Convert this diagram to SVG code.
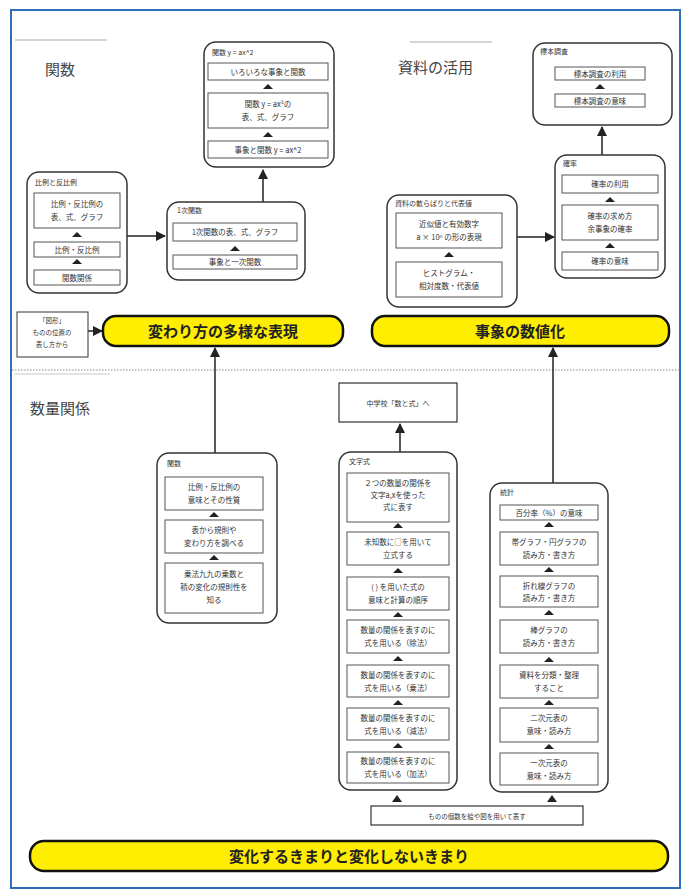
<svg xmlns="http://www.w3.org/2000/svg" width="686" height="895" viewBox="0 0 686 895">
<style>
text{font-family:"Noto Sans CJK JP","Noto Sans",sans-serif;fill:#333}
.outer{fill:#fff;stroke:#333;stroke-width:1.5}
.inner{fill:#fff;stroke:#555;stroke-width:1}
.t{font-size:7.5px;text-anchor:middle}
.h{font-size:7px}
.title{font-size:15px;fill:#444}
.yel{fill:#ffee00;stroke:#111;stroke-width:2.5}
.yt{font-size:15px;font-weight:bold;text-anchor:middle;fill:#222}
.tri{fill:#222}
.conn line{stroke:#222;stroke-width:1.5}
</style>
<defs>
<marker id="arr" viewBox="0 0 10 10" refX="9" refY="5" markerWidth="7" markerHeight="7" orient="auto">
<path d="M0,0 L10,5 L0,10 z" fill="#222"/>
</marker>
</defs>
<rect x="0" y="0" width="686" height="895" fill="#fff"/>
<rect x="11" y="10" width="669" height="878" fill="#fff" stroke="#2f6fba" stroke-width="2"/>
<line x1="15" y1="40" x2="107" y2="40" stroke="#aaa" stroke-width="1"/>
<line x1="410" y1="42" x2="492" y2="42" stroke="#aaa" stroke-width="1"/>
<line x1="12" y1="370" x2="680" y2="370" stroke="#888" stroke-width="1" stroke-dasharray="1.5 1.5"/>
<line x1="14" y1="374" x2="110" y2="374" stroke="#bbb" stroke-width="0.8"/>

<text class="title" x="45" y="75">関数</text>
<text class="title" x="398" y="73">資料の活用</text>
<text class="title" x="30" y="414">数量関係</text>

<g id="connectors" class="conn">
<line x1="263" y1="202" x2="263" y2="170" marker-end="url(#arr)"/>
<line x1="127" y1="236" x2="165" y2="236" marker-end="url(#arr)"/>
<line x1="602" y1="155" x2="602" y2="127" marker-end="url(#arr)"/>
<line x1="517" y1="237" x2="554" y2="237" marker-end="url(#arr)"/>
<line x1="88" y1="331" x2="102" y2="331" marker-end="url(#arr)"/>
<line x1="215" y1="453" x2="215" y2="348" marker-end="url(#arr)"/>
<line x1="553" y1="483" x2="553" y2="348" marker-end="url(#arr)"/>
<line x1="400" y1="452" x2="400" y2="424" marker-end="url(#arr)"/>
<polygon class="tri" points="392,802 397,795 402,802"/>
<polygon class="tri" points="547,802 552,795 557,802"/>
</g>

<g id="kansu-ax2">
<rect class="outer" x="204" y="42" width="130" height="125" rx="12"/>
<text class="h" x="212" y="55">関数 y = ax^2</text>
<rect class="inner" x="208" y="63" width="120" height="17"/>
<text class="t" x="268" y="74.5">いろいろな事象と関数</text>
<polygon class="tri" points="263,89 268,84 273,89"/>
<rect class="inner" x="208" y="93" width="120" height="35"/>
<text class="t" x="268" y="107">関数 y = ax²の</text>
<text class="t" x="268" y="120">表、式、グラフ</text>
<polygon class="tri" points="263,137 268,132 273,137"/>
<rect class="inner" x="208" y="141" width="120" height="17"/>
<text class="t" x="268" y="152.5">事象と関数 y = ax^2</text>
</g>

<g id="hirei">
<rect class="outer" x="27" y="172" width="100" height="121" rx="12"/>
<text class="h" x="35" y="185">比例と反比例</text>
<rect class="inner" x="34" y="193" width="86" height="35"/>
<text class="t" x="77" y="207">比例・反比例の</text>
<text class="t" x="77" y="220">表、式、グラフ</text>
<polygon class="tri" points="72,237 77,232 82,237"/>
<rect class="inner" x="34" y="242" width="86" height="15"/>
<text class="t" x="77" y="252.5">比例・反比例</text>
<polygon class="tri" points="72,264 77,259 82,264"/>
<rect class="inner" x="34" y="270" width="86" height="15"/>
<text class="t" x="77" y="280.5">関数関係</text>
</g>

<g id="ichiji">
<rect class="outer" x="167" y="202" width="138" height="78" rx="12"/>
<text class="h" x="177" y="213">1次関数</text>
<rect class="inner" x="173" y="223" width="124" height="18"/>
<text class="t" x="235" y="235">1次関数の表、式、グラフ</text>
<polygon class="tri" points="230,251 235,246 240,251"/>
<rect class="inner" x="173" y="255" width="124" height="14"/>
<text class="t" x="235" y="265">事象と一次関数</text>
</g>

<g id="hyohon">
<rect class="outer" x="533" y="43" width="139" height="82" rx="12"/>
<text class="h" x="540" y="54">標本調査</text>
<rect class="inner" x="555" y="67" width="90" height="13"/>
<text class="t" x="600" y="76.5">標本調査の利用</text>
<polygon class="tri" points="595,89 600,84 605,89"/>
<rect class="inner" x="555" y="94" width="90" height="13"/>
<text class="t" x="600" y="103.5">標本調査の意味</text>
</g>

<g id="kakuritsu">
<rect class="outer" x="555" y="155" width="110" height="123" rx="12"/>
<text class="h" x="563" y="166">確率</text>
<rect class="inner" x="562" y="175" width="96" height="18"/>
<text class="t" x="610" y="187">確率の利用</text>
<polygon class="tri" points="605,202 610,197 615,202"/>
<rect class="inner" x="562" y="205" width="96" height="35"/>
<text class="t" x="610" y="219">確率の求め方</text>
<text class="t" x="610" y="232">余事象の確率</text>
<polygon class="tri" points="605,248 610,243 615,248"/>
<rect class="inner" x="562" y="252" width="96" height="18"/>
<text class="t" x="610" y="264">確率の意味</text>
</g>

<g id="shiryo">
<rect class="outer" x="387" y="195" width="130" height="112" rx="12"/>
<text class="h" x="395" y="206">資料の散らばりと代表値</text>
<rect class="inner" x="396" y="213" width="106" height="35"/>
<text class="t" x="449" y="227">近似値と有効数字</text>
<text class="t" x="449" y="240">a × 10ⁿ の形の表現</text>
<polygon class="tri" points="444,257 449,252 454,257"/>
<rect class="inner" x="396" y="262" width="106" height="35"/>
<text class="t" x="449" y="276">ヒストグラム・</text>
<text class="t" x="449" y="289">相対度数・代表値</text>
</g>

<g id="zukei">
<rect x="17" y="312" width="71" height="45" fill="#fff" stroke="#333" stroke-width="1"/>
<text class="t" x="52" y="323" style="font-size:6.5px">「図形」</text>
<text class="t" x="52" y="335" style="font-size:6.5px">ものの位置の</text>
<text class="t" x="52" y="347" style="font-size:6.5px">表し方から</text>
</g>

<g id="kawarikata">
<rect class="yel" x="103" y="316" width="240" height="30" rx="13"/>
<text class="yt" x="223" y="336.5">変わり方の多様な表現</text>
</g>

<g id="suchika">
<rect class="yel" x="372" y="316" width="297" height="30" rx="13"/>
<text class="yt" x="520" y="336.5">事象の数値化</text>
</g>

<g id="chugaku">
<rect x="339" y="383" width="118" height="39" fill="#fff" stroke="#333" stroke-width="1.2"/>
<text class="t" x="398" y="406" style="font-size:7px">中学校「数と式」へ</text>
</g>

<g id="kansu-low">
<rect class="outer" x="157" y="453" width="120" height="170" rx="12"/>
<text class="h" x="167" y="466">関数</text>
<rect class="inner" x="165" y="477" width="98" height="33"/>
<text class="t" x="214" y="490">比例・反比例の</text>
<text class="t" x="214" y="503">意味とその性質</text>
<polygon class="tri" points="209,517 214,512 219,517"/>
<rect class="inner" x="165" y="520" width="98" height="33"/>
<text class="t" x="214" y="533">表から規則や</text>
<text class="t" x="214" y="546">変わり方を調べる</text>
<polygon class="tri" points="209,560 214,555 219,560"/>
<rect class="inner" x="165" y="563" width="98" height="50"/>
<text class="t" x="214" y="577">乗法九九の乗数と</text>
<text class="t" x="214" y="590">積の変化の規則性を</text>
<text class="t" x="214" y="603">知る</text>
</g>

<g id="mojishiki">
<rect class="outer" x="339" y="452" width="118" height="338" rx="12"/>
<text class="h" x="349" y="464">文字式</text>
<rect class="inner" x="347" y="473" width="102" height="49"/>
<text class="t" x="398" y="486">２つの数量の関係を</text>
<text class="t" x="398" y="498">文字a,xを使った</text>
<text class="t" x="398" y="510">式に表す</text>
<polygon class="tri" points="393,528 398,523 403,528"/>
<rect class="inner" x="347" y="532" width="102" height="33"/>
<text class="t" x="398" y="545">未知数に□を用いて</text>
<text class="t" x="398" y="558">立式する</text>
<polygon class="tri" points="393,573 398,568 403,573"/>
<rect class="inner" x="347" y="577" width="102" height="33"/>
<text class="t" x="398" y="590">( ) を用いた式の</text>
<text class="t" x="398" y="603">意味と計算の順序</text>
<polygon class="tri" points="393,617 398,612 403,617"/>
<rect class="inner" x="347" y="620" width="102" height="33"/>
<text class="t" x="398" y="633">数量の関係を表すのに</text>
<text class="t" x="398" y="646">式を用いる（除法）</text>
<polygon class="tri" points="393,661 398,656 403,661"/>
<rect class="inner" x="347" y="665" width="102" height="32"/>
<text class="t" x="398" y="678">数量の関係を表すのに</text>
<text class="t" x="398" y="691">式を用いる（乗法）</text>
<polygon class="tri" points="393,705 398,700 403,705"/>
<rect class="inner" x="347" y="708" width="102" height="32"/>
<text class="t" x="398" y="721">数量の関係を表すのに</text>
<text class="t" x="398" y="734">式を用いる（減法）</text>
<polygon class="tri" points="393,748 398,743 403,748"/>
<rect class="inner" x="347" y="752" width="102" height="31"/>
<text class="t" x="398" y="764">数量の関係を表すのに</text>
<text class="t" x="398" y="777">式を用いる（加法）</text>
</g>

<g id="tokei">
<rect class="outer" x="490" y="483" width="118" height="309" rx="12"/>
<text class="h" x="500" y="495">統計</text>
<rect class="inner" x="500" y="505" width="98" height="15"/>
<text class="t" x="549" y="515.5">百分率（%）の意味</text>
<polygon class="tri" points="544,527 549,522 554,527"/>
<rect class="inner" x="500" y="532" width="98" height="33"/>
<text class="t" x="549" y="545">帯グラフ・円グラフの</text>
<text class="t" x="549" y="558">読み方・書き方</text>
<polygon class="tri" points="544,572 549,567 554,572"/>
<rect class="inner" x="500" y="576" width="98" height="31"/>
<text class="t" x="549" y="589">折れ線グラフの</text>
<text class="t" x="549" y="601">読み方・書き方</text>
<polygon class="tri" points="544,615 549,610 554,615"/>
<rect class="inner" x="500" y="620" width="98" height="33"/>
<text class="t" x="549" y="633">棒グラフの</text>
<text class="t" x="549" y="646">読み方・書き方</text>
<polygon class="tri" points="544,662 549,657 554,662"/>
<rect class="inner" x="500" y="665" width="98" height="33"/>
<text class="t" x="549" y="678">資料を分類・整理</text>
<text class="t" x="549" y="691">すること</text>
<polygon class="tri" points="544,705 549,700 554,705"/>
<rect class="inner" x="500" y="708" width="98" height="34"/>
<text class="t" x="549" y="721">二次元表の</text>
<text class="t" x="549" y="734">意味・読み方</text>
<polygon class="tri" points="544,749 549,744 554,749"/>
<rect class="inner" x="500" y="753" width="98" height="32"/>
<text class="t" x="549" y="766">一次元表の</text>
<text class="t" x="549" y="779">意味・読み方</text>
</g>

<g id="kosu">
<rect x="371" y="806" width="212" height="19" fill="#fff" stroke="#333" stroke-width="1.2"/>
<text class="t" x="477" y="818.5" style="font-size:6.5px">ものの個数を絵や図を用いて表す</text>
</g>

<g id="kimari">
<rect class="yel" x="30" y="841" width="638" height="30" rx="14"/>
<text class="yt" x="349" y="861.5">変化するきまりと変化しないきまり</text>
</g>
</svg>
